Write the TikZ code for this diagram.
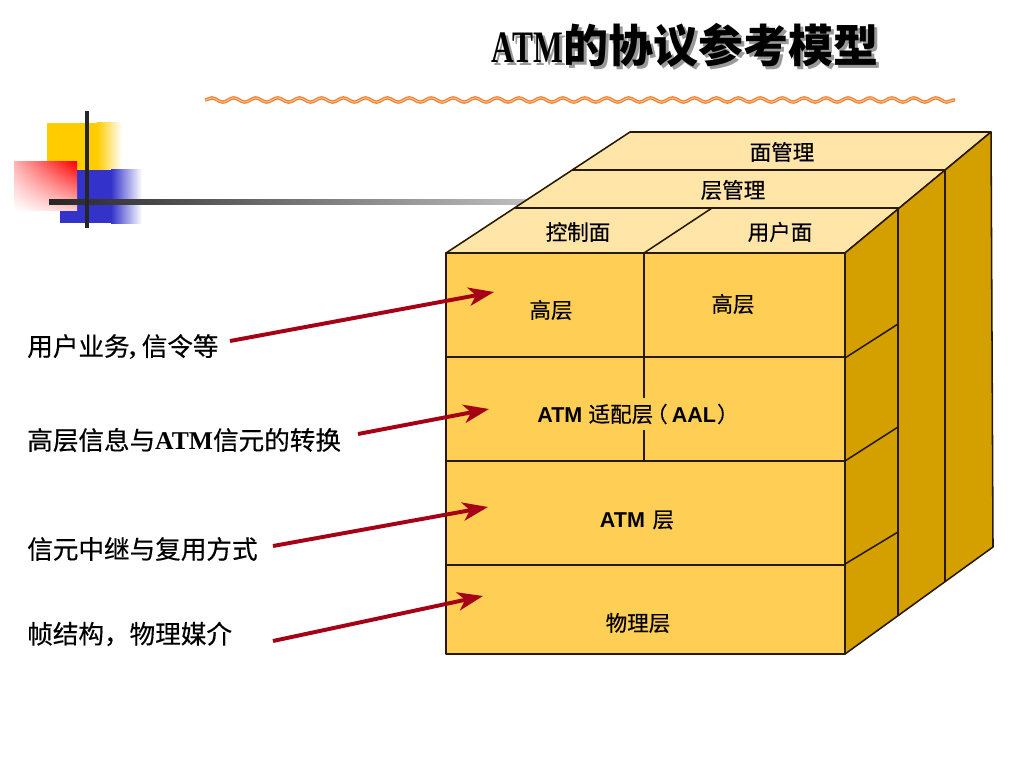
\documentclass[tikz,border=0pt]{standalone}
\usepackage{fontspec}
\setmainfont{Noto Sans CJK SC}
\newfontfamily\cjkheavy[FakeBold=0.4]{Noto Sans CJK SC}
\newfontfamily\tnr{Liberation Serif}
\newfontfamily\arial{Liberation Sans}
\newfontfamily\titlelatin[FakeStretch=0.7]{Liberation Serif}
\usepackage{tikz}
\usetikzlibrary{arrows.meta,decorations.pathmorphing,calc,shadings}
\definecolor{frontcol}{RGB}{255,206,84}
\definecolor{topcol}{RGB}{255,229,168}
\definecolor{sidecol}{RGB}{212,160,0}
\definecolor{edgecol}{RGB}{40,25,0}
\definecolor{arrowred}{RGB}{165,0,22}
\definecolor{waveorange}{RGB}{240,125,40}
\definecolor{decoyellow}{RGB}{255,204,0}
\definecolor{decoblue}{RGB}{51,51,204}

\begin{document}
\begin{tikzpicture}[x=0.025cm,y=-0.025cm,
    edge/.style={draw=edgecol,line width=1.1pt,line join=round},
    cell/.style={font=\cjkheavy\fontsize{15.3}{18}\selectfont,inner sep=1pt},
    lbl/.style={anchor=west,font=\cjkheavy\fontsize{18.2}{21}\selectfont,inner sep=0pt},
    arr/.style={draw=arrowred,line width=2.8pt,-{Stealth[length=18pt,width=13pt,inset=5pt]}}]
    \useasboundingbox (0,0) rectangle (1024,768);
    % title with its shadow
    \node[text=black!40,font=\fontsize{32}{36}\selectfont] (title-shadow) at (688,48) {{\titlelatin\bfseries ATM}{\bfseries 的协议参考模型}};
    \node[font=\fontsize{32}{36}\selectfont] (title) at (685,45) {{\titlelatin\bfseries ATM}{\bfseries 的协议参考模型}};
    \draw[waveorange,line width=2.4pt,decorate,decoration={snake,segment length=15.6pt,amplitude=1.5pt}] (205,100) -- (955,100);
    \draw[waveorange!45,line width=0.7pt,decorate,decoration={snake,segment length=15.6pt,amplitude=1.5pt}] (205,100) -- (955,100);
    % corner decoration
    \fill[decoyellow] (47,123) rectangle (98,172);
    \shade[left color=decoyellow,right color=white] (97,123) rectangle (122,172);
    \fill[decoblue] (60,170) rectangle (112,223);
    \shade[left color=decoblue,right color=white] (111,170) rectangle (142,223);
    \shade[upper right=red,upper left=red!30,lower right=red!20,lower left=white] (14,162) rectangle (77,210);
    \shade[left color=black!85,right color=black!25] (49,199) rectangle (530,204);
    \draw[black!85,line width=2.8pt] (87,111) -- (87,228);
    % cube: top, side, front
    \filldraw[edge,fill=topcol] (446,253) -- (845,253) -- (991,132) -- (630,132) -- cycle;
    \draw[edge] (572,170) -- (945,170) (514,208) -- (899,208) (644,253) -- (712,208);
    \filldraw[edge,fill=sidecol] (845,253) -- (991,132) -- (993,547) -- (845,654) -- cycle;
    \draw[edge] (898,209) -- (898,616) (945,170) -- (945,582);
    \foreach \y/\d in {358/34,461/34,564/32}
      \draw[edge] (845,\y) -- (898,\y-\d);
    \filldraw[edge,fill=frontcol] (446,253) rectangle (845,654);
    \foreach \y in {357,461,565}
      \draw[edge] (446,\y) -- (845,\y);
    \draw[edge] (644,253) -- (644,461);
    \node[cell] (plane-mgmt) at (782,152) {面管理};
    \node[cell] (layer-mgmt) at (733,190) {层管理};
    \node[cell] (ctrl-plane) at (578,232) {控制面};
    \node[cell] (user-plane) at (780,232) {用户面};
    \node[cell] (hl-ctrl) at (551,310) {高层};
    \node[cell] (hl-user) at (733,304) {高层};
    \node[cell,fill=frontcol,inner sep=4pt] (aal) at (638,414) {{\arial\bfseries ATM}\kern1pt{} 适配层\kern-5pt（\kern3pt{\arial\bfseries AAL}\kern0.7pt）};
    \node[cell] (atm) at (637,520) {{\arial\bfseries ATM}\kern2pt{} 层};
    \node[cell] (phy) at (638,623) {物理层};
    % labels on the left and their arrows
    \foreach \n/\ly/\tx/\ty/\hx/\hy/\txt in {
        1/347/230/341/494/292/{用户业务{\tnr\bfseries ,} 信令等},
        2/440/358/434/489/409/{高层信息与{\tnr\bfseries ATM}信元的转换},
        3/549/273/546/488/507/{信元中继与复用方式},
        4/634/273/641/483/596/{帧结构，物理媒介}} {
      \node[lbl] (lbl\n) at (27,\ly) {\txt};
      \coordinate (tail\n) at (\tx,\ty);
      \coordinate (head\n) at (\hx,\hy);
      \draw[arr] (tail\n) -- (head\n);
    }
\end{tikzpicture}
\end{document}
